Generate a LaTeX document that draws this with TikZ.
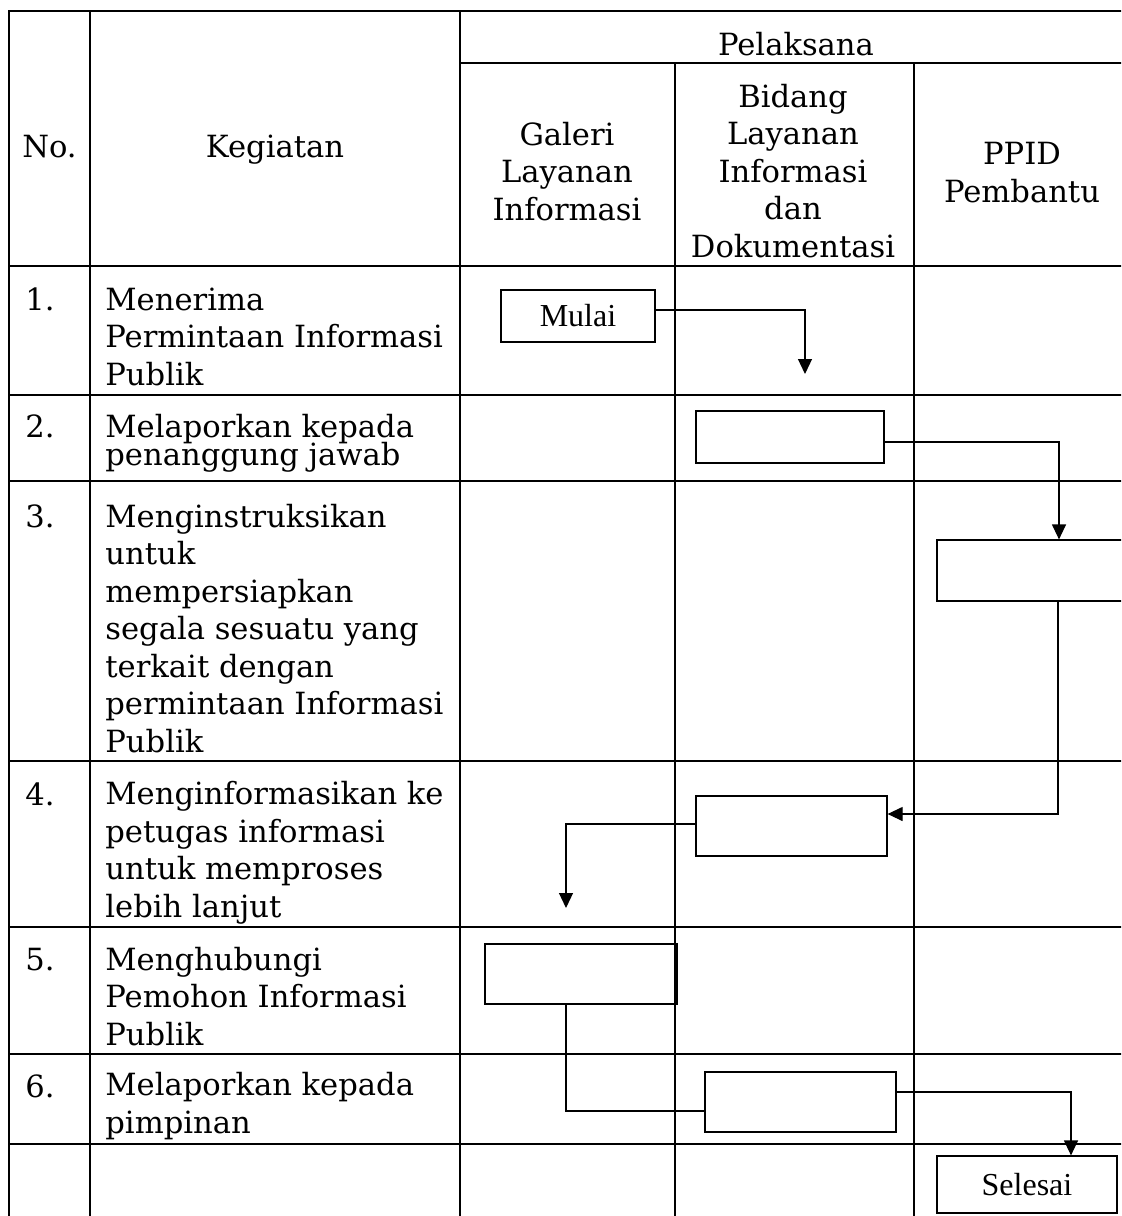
\documentclass[tikz,border=0pt]{standalone}
\usepackage{fontspec}
\setmainfont{DejaVu Serif}
\newfontfamily\kotakfont{Liberation Serif}
\usetikzlibrary{arrows.meta,positioning}
\tikzset{
  garis/.style={line width=0.9pt},
  teks/.style={font=\fontsize{15.3}{18.75}\selectfont, inner sep=0pt, align=left, anchor=base west},
  judul/.style={font=\fontsize{15.3}{18.75}\selectfont, inner sep=0pt, align=center, anchor=base},
  kotak/.style={draw, line width=0.6pt, inner sep=0pt, font=\kotakfont\fontsize{16}{18}\selectfont},
  alur/.style={line width=0.6pt, -{Triangle[width=7pt,length=7.5pt]}},
}
\begin{document}
\begin{tikzpicture}[x=0.5pt,y=-0.5pt]
    \useasboundingbox (0,0) rectangle (1121,1216);
    \clip (0,0) rectangle (1121,1216);
    \draw[garis] (9,11) rectangle (1130,1218);
    \foreach \y in {266,395,481,761,927,1054,1144}
        \draw[garis] (9,\y) -- (1130,\y);
    \draw[garis] (460,63) -- (1130,63);
    \foreach \x in {90,460}
        \draw[garis] (\x,11) -- (\x,1218);
    \foreach \x in {675,914}
        \draw[garis] (\x,63) -- (\x,1218);

    \node[judul] (no) at (49.5,157) {No.};
    \node[judul] (kegiatan) at (275,157) {Kegiatan};
    \node[judul] (pelaksana) at (796,55) {Pelaksana};
    \node[judul] (galeri) at (567,220) {Galeri\\Layanan\\Informasi};
    \node[judul] (bidang) at (793,257) {Bidang\\Layanan\\Informasi\\dan\\Dokumentasi};
    \node[judul] (ppid) at (1022,202) {PPID\\Pembantu};

    \foreach \n/\y in {1/310,2/437,3/527,4/805,5/970,6/1097}
        \node[teks] (nomor\n) at (25,\y) {\n.};
    \node[teks] (keg1) at (105,385) {Menerima\\Permintaan Informasi\\Publik};
    \node[teks] (keg2) at (105,465) {Melaporkan kepada\\[-4.75pt]penanggung jawab};
    \node[teks] (keg3) at (105,752) {Menginstruksikan\\untuk\\mempersiapkan\\segala sesuatu yang\\terkait dengan\\permintaan Informasi\\Publik};
    \node[teks] (keg4) at (105,917) {Menginformasikan ke\\petugas informasi\\untuk memproses\\lebih lanjut};
    \node[teks] (keg5) at (105,1045) {Menghubungi\\Pemohon Informasi\\Publik};
    \node[teks] (keg6) at (105,1133) {Melaporkan kepada\\pimpinan};

    \node[kotak, minimum width=77pt, minimum height=26pt] (mulai) at (578,316) {Mulai};
    \node[kotak, minimum width=94pt, minimum height=26pt] (lapor) at (790,437) {};
    \node[kotak, minimum width=100pt, minimum height=30.5pt] (instruksi) at (1037,570.5) {};
    \node[kotak, minimum width=95.5pt, minimum height=30pt] (info) at (791.5,826) {};
    \node[kotak, minimum width=96pt, minimum height=30pt] (hubungi) at (581,974) {};
    \node[kotak, minimum width=95.5pt, minimum height=30pt] (pimpin) at (800.5,1102) {};
    \node[kotak, minimum width=90pt, minimum height=28.5pt] (selesai) at (1027,1184.5) {Selesai};
    \coordinate (ujung1) at (805,374);
    \coordinate (ujung2) at (566,908);

    \draw[alur] ([yshift=3pt]mulai.east) -| (ujung1);
    \draw[alur] ([yshift=-2.5pt]lapor.east) -| ([xshift=11pt]instruksi.north);
    \draw[alur] ([xshift=10.5pt]instruksi.south) |- ([yshift=6pt]info.east);
    \draw[alur] ([yshift=1pt]info.west) -| (ujung2);
    \draw[line width=0.6pt] ([xshift=-7.5pt]hubungi.south) |- ([yshift=-4.5pt]pimpin.west);
    \draw[alur] ([yshift=5pt]pimpin.east) -| ([xshift=22pt]selesai.north);
\end{tikzpicture}
\end{document}
